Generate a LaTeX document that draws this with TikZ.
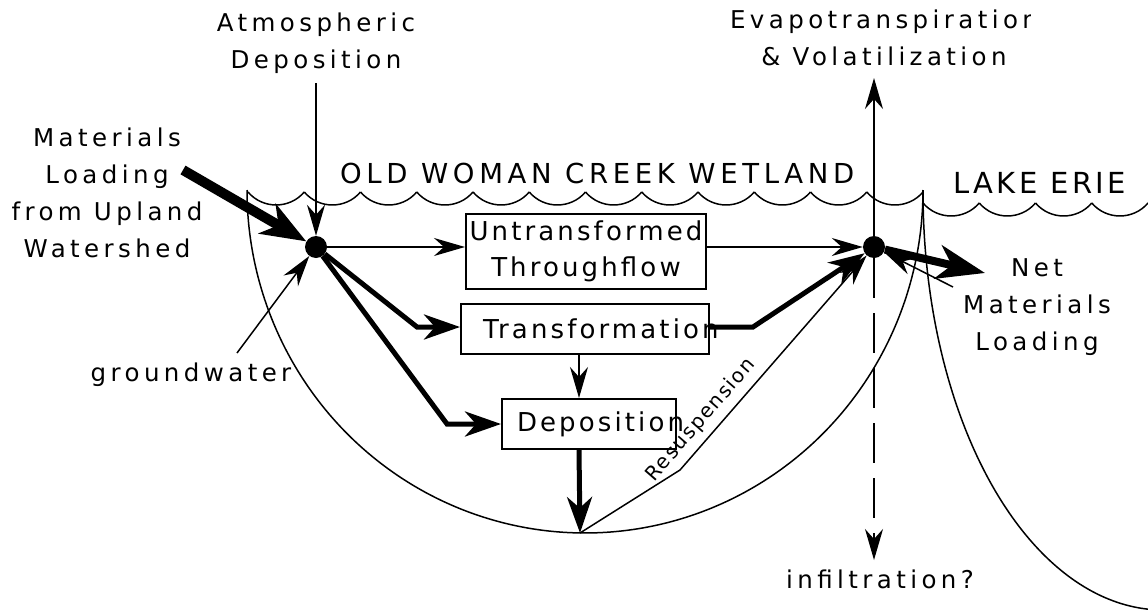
\documentclass[tikz,border=0pt]{standalone}
\usepackage{fontspec}
\setmainfont{DejaVu Sans}
\newfontfamily\fLbl{DejaVu Sans}[LetterSpace=18]
\newfontfamily\fBox{DejaVu Sans}[LetterSpace=12]
\newfontfamily\fTitle{DejaVu Sans}[LetterSpace=17]
\newfontfamily\fLake{DejaVu Sans}[LetterSpace=12]
\newfontfamily\fRes{DejaVu Sans}[LetterSpace=8]
\usetikzlibrary{arrows.meta}
\begin{document}
\begin{tikzpicture}[x=1pt,y=-1pt,
  surf/.style={line width=1.5pt},
  tn/.style={line width=1.5pt, -{Stealth[length=31pt,width=18pt,inset=10pt]}},
  tk/.style={line width=5pt, -{Stealth[length=36pt,width=25pt,inset=11pt]}},
  bigmat/.style={line width=10pt, -{Stealth[length=45pt,width=34pt,inset=13pt]}},
  bignet/.style={line width=8pt, -{Stealth[length=48pt,width=34pt,inset=14pt]}},
  dot/.style={circle, fill=black, minimum size=22pt, inner sep=0pt},
  box/.style={draw, line width=2pt, inner sep=0pt, font=\fBox\fontsize{26}{36}\selectfont, align=center},
  lbl/.style={inner sep=0pt, font=\fLbl\fontsize{24.5}{36.7}\selectfont, align=center, anchor=base},
]
\useasboundingbox (0,0) rectangle (1148,613);
\clip (0,0) rectangle (1148,613);

% wetland surface
\foreach \i in {0,...,11} {
  \pgfmathsetmacro\xa{248+56.25*\i}
  \draw[surf] (\xa,192) .. controls ({\xa+14.7},209.3) and ({\xa+56.25-14.7},209.3) .. ({\xa+56.25},192);
}
% lake surface
\foreach \i in {0,...,4} {
  \pgfmathsetmacro\xa{923+56.25*\i}
  \draw[surf] (\xa,203) .. controls ({\xa+14.7},220.3) and ({\xa+56.25-14.7},220.3) .. ({\xa+56.25},203);
}
\draw[surf] (923,190) -- (923,203);
% basin and lake bottom
\draw[surf] plot[domain=0:180, samples=120, smooth] ({585+338*cos(\x)},{190+343*sin(\x)});
\draw[surf] plot[domain=180:90, samples=90, smooth] ({1163+240*cos(\x)},{192+418*sin(\x)});

% labels (base anchor = baseline of the last line)
\node[lbl] (atm) at (316,68) {Atmospheric\\Deposition};
\node[lbl] (mat) at (107,257) {Materials\\Loading\\from Upland\\Watershed};
\node[lbl] (gw) at (191,381) {groundwater};
\node[lbl] (net) at (1037,350) {Net\\Materials\\Loading};
\node[lbl] (inf) at (880,588) {infiltration?};
\begin{scope}
  \clip (700,0) rectangle (1030,90);
  \node[lbl] (evap) at (884,65) {Evapotranspiration\\\& Volatilization};
\end{scope}
\begin{scope}
  \clip (330,140) rectangle (858,195);
  \node[inner sep=0pt, anchor=base west, font=\fTitle\fontsize{27.5}{30}\selectfont] (owc) at (340,183) {OLD WOMAN CREEK WETLAND};
\end{scope}
\node[inner sep=0pt, anchor=base west, font=\fLake\fontsize{29}{32}\selectfont] (erie) at (953,193) {LAKE ERIE};
\node[inner sep=0pt, rotate=49, font=\fRes\fontsize{20}{22}\selectfont] (res) at (701,420) {Resuspension};

% boxes
\node[box, minimum width=240pt, minimum height=75pt] (U) at (586,251.5) {Untransformed\\Throughflow};
\node[box, minimum width=248pt, minimum height=50pt] (T) at (585,329) {\makebox[248pt][l]{\hspace*{22pt}Transformation}};
\node[box, minimum width=174pt, minimum height=50pt] (D) at (589,424) {\makebox[174pt][l]{\hspace*{15pt}Deposition}};

% dots
\node[dot] (L) at (316,247) {};
\node[dot] (R) at (874,247) {};

% coordinates
\coordinate (atmS) at (316,83);
\coordinate (matS) at (183,170);
\coordinate (gwS) at (237,353);
\coordinate (b1) at (417,327);
\coordinate (b2) at (447,424);
\coordinate (b3) at (753,327);
\coordinate (vx) at (579,0);
\coordinate (B) at (580,533);
\coordinate (b4) at (680,470);
\coordinate (netE) at (985,273);
\coordinate (lakeS) at (953,287);
\coordinate (evE) at (874,78);
\coordinate (infE) at (874,560);

% connectors
\draw[tn] (atmS) -- (L);
\draw[bigmat] (matS) -- (L);
\draw[tn] (gwS) -- (L);
\draw[tn] (L) -- (L -| U.west);
\draw[tn] (U.east |- R) -- (R);
\draw[tk] (L) -- (b1) -- (b1 -| T.west);
\draw[tk] (L) -- (b2) -- (b2 -| D.west);
\draw[tk] (b3 -| T.east) -- (b3) -- (R);
\draw[tn] (T.south -| vx) -- (D.north -| vx);
\draw[tk] (D.south -| vx) -- (B);
\draw[tn] (B) -- (b4) -- (R);
\draw[bignet] (R) -- (netE);
\draw[tn] (lakeS) -- (R);
\draw[tn] (R) -- (evE);
\draw[tn, dash pattern=on 40pt off 15pt] (R) -- (infE);
\end{tikzpicture}
\end{document}
